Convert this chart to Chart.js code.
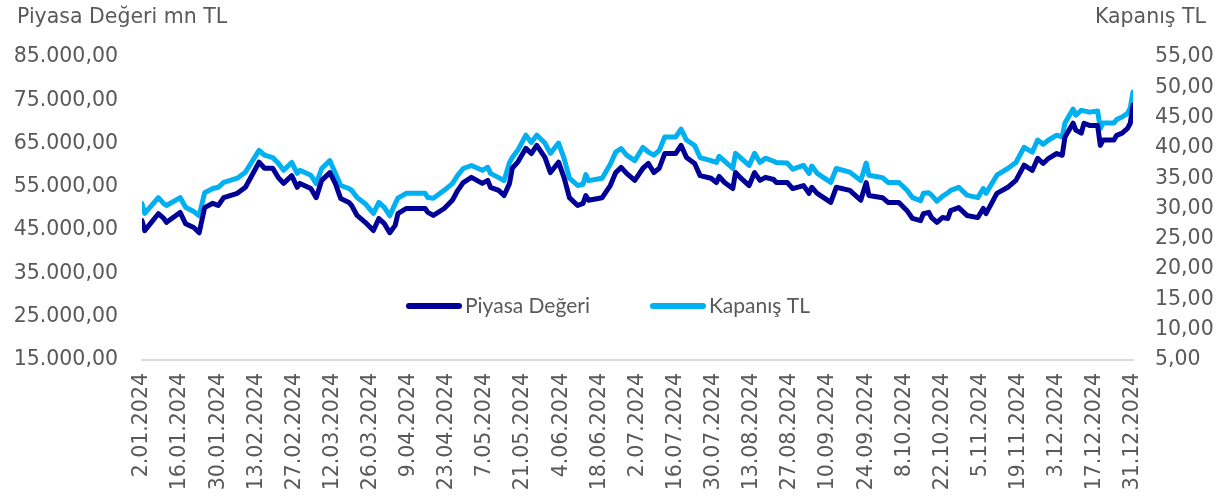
<!DOCTYPE html>
<html>
<head>
<meta charset="utf-8">
<script src="https://cdn.jsdelivr.net/npm/chart.js@4.4.1/dist/chart.umd.min.js"></script>
<style>
  html, body { margin: 0; padding: 0; background: #fff; }
  #wrap { width: 1219px; height: 503px; position: relative; }
</style>
</head>
<body>
<div id="wrap"><canvas id="chart"></canvas></div>
<script>
// days counted from 2.01.2024
const days = [0, 1, 6, 8, 9, 14, 16, 19, 21, 23, 26, 28, 30, 35, 38, 43, 45, 48, 50, 52,
  55, 57, 58, 62, 64, 66, 69, 71, 73, 76, 77, 79, 82, 85, 87, 89, 91, 93, 94, 97,
  104, 105, 107, 111, 114, 116, 118, 121, 125, 127, 128, 131, 133, 135, 136, 138, 141, 143, 145, 148,
  150, 153, 155, 157, 160, 162, 163, 164, 169, 172, 174, 176, 178, 181, 184, 186, 188, 190, 192, 196,
  198, 200, 203, 205, 209, 211, 212, 214, 217, 218, 220, 223, 225, 227, 229, 232, 233, 237, 239, 243,
  245, 246, 248, 253, 255, 260, 264, 266, 267, 272, 274, 278, 281, 283, 286, 287, 289, 290, 292, 294,
  296, 297, 300, 303, 307, 309, 310, 314, 318, 321, 324, 327, 329, 331, 333, 336, 338, 339, 342, 343,
  345, 346, 348, 351, 352, 353, 357, 358, 360, 362, 363, 364];

// Piyasa Değeri, mn TL
const piyasaDegeri = [47200, 44900, 48800, 47700, 46800, 49100, 46500, 45600, 44400, 50200,
  51200, 50700, 52500, 53500, 54900, 60700, 59300, 59300, 57200, 55800,
  57600, 54900, 55800, 54600, 52500, 56500, 58300, 55800, 52300, 51400,
  50700, 48400, 46800, 44900, 47700, 46500, 44400, 46100, 48800, 50000,
  50000, 49100, 48400, 50000, 51900, 54200, 56000, 57200, 55800, 56500,
  54900, 54200, 53000, 55800, 59300, 60700, 63900, 62700, 64600, 61800,
  58300, 60700, 57200, 52500, 50700, 51200, 53000, 51900, 52500, 55300,
  58300, 59500, 58100, 56500, 59300, 60400, 58300, 59300, 62700, 62700,
  64600, 61800, 60400, 57600, 57000, 56000, 57400, 56000, 54600, 58300,
  57000, 55300, 58300, 56500, 57200, 56700, 56000, 56000, 54600, 55300,
  53500, 54900, 53500, 51400, 54900, 54200, 51900, 56000, 53000, 52500,
  51400, 51400, 49500, 47700, 47200, 48800, 49100, 47900, 46800, 47900,
  47700, 49500, 50200, 48400, 47900, 50000, 48800, 53500, 54900, 56500,
  60000, 58800, 61600, 60400, 61600, 62700, 62300, 66500, 69700, 68100,
  67400, 69700, 69200, 69200, 64600, 65800, 65800, 66900, 67400, 68500,
  69700, 73900];

// Kapanış, TL
const kapanis = [30.8, 29.2, 31.8, 30.8, 30.5, 31.8, 30.2, 29.5, 28.8, 32.6,
  33.3, 33.5, 34.3, 35.0, 36.0, 39.6, 38.8, 38.4, 37.5, 36.3,
  37.6, 35.8, 36.3, 35.5, 34.1, 36.6, 37.9, 35.8, 33.8, 33.3,
  33.0, 31.8, 30.8, 29.2, 31.0, 30.2, 28.8, 30.8, 31.7, 32.5,
  32.5, 31.8, 31.7, 33.0, 34.1, 35.5, 36.6, 37.1, 36.3, 36.8,
  35.8, 35.1, 34.6, 37.6, 38.4, 39.6, 42.1, 40.9, 42.1, 40.8,
  39.1, 40.8, 38.3, 35.0, 33.8, 34.0, 35.6, 34.6, 35.0, 37.3,
  39.3, 39.9, 38.8, 37.9, 40.1, 39.3, 38.8, 39.6, 41.8, 41.8,
  43.1, 41.3, 40.4, 38.4, 37.9, 37.6, 38.6, 37.8, 36.6, 39.1,
  38.3, 37.1, 39.1, 37.6, 38.3, 37.8, 37.6, 37.5, 36.5, 37.1,
  35.8, 37.0, 35.8, 34.3, 36.6, 36.0, 34.6, 37.5, 35.5, 35.1,
  34.3, 34.3, 33.0, 31.8, 31.3, 32.5, 32.6, 32.2, 31.2, 32.0,
  32.6, 33.0, 33.5, 32.2, 31.8, 33.3, 32.5, 35.5, 36.6, 37.6,
  40.1, 39.3, 41.3, 40.6, 41.3, 42.1, 41.8, 44.1, 46.4, 45.4,
  46.2, 46.1, 45.9, 46.1, 43.2, 44.1, 44.1, 44.7, 45.1, 45.7,
  46.6, 49.2];

const tickLabels = ['2.01.2024', '16.01.2024', '30.01.2024', '13.02.2024', '27.02.2024', '12.03.2024',
  '26.03.2024', '9.04.2024', '23.04.2024', '7.05.2024', '21.05.2024', '4.06.2024', '18.06.2024',
  '2.07.2024', '16.07.2024', '30.07.2024', '13.08.2024', '27.08.2024', '10.09.2024', '24.09.2024',
  '8.10.2024', '22.10.2024', '5.11.2024', '19.11.2024', '3.12.2024', '17.12.2024', '31.12.2024'];

const seriesNames = ['Piyasa Değeri', 'Kapanış TL'];
const axisTitles = ['Piyasa Değeri mn TL', 'Kapanış TL'];

const DARK = '#000096';
const LIGHT = '#00b0f0';
const TEXT = '#595959';
const TICK_FONT = { family: 'DejaVu Sans', size: 20.5 };

function trNumber(v, thousands) {
  let s = v.toFixed(2).replace('.', ',');
  if (thousands) {
    const [i, d] = s.split(',');
    s = i.replace(/\B(?=(\d{3})+(?!\d))/g, '.') + ',' + d;
  }
  return s;
}

// titles above the axes and the legend inside the plot
const extrasPlugin = {
  id: 'extras',
  afterDraw(chart) {
    const ctx = chart.ctx;
    ctx.save();
    ctx.fillStyle = TEXT;
    ctx.font = '20.5px "DejaVu Sans"';
    ctx.textBaseline = 'middle';
    ctx.textAlign = 'left';
    ctx.fillText(axisTitles[0], 17, 18);
    ctx.textAlign = 'right';
    ctx.fillText(axisTitles[1], 1206, 18);

    const colors = [DARK, LIGHT];
    const starts = [406, 650];
    ctx.font = '21px Lato';
    ctx.textAlign = 'left';
    ctx.lineWidth = 6;
    ctx.lineCap = 'round';
    seriesNames.forEach((name, i) => {
      const x = starts[i];
      ctx.strokeStyle = colors[i];
      ctx.beginPath();
      ctx.moveTo(x + 3, 306);
      ctx.lineTo(x + 53, 306);
      ctx.stroke();
      ctx.fillStyle = TEXT;
      ctx.fillText(name, x + 59, 306);
    });
    ctx.restore();
  }
};

const ctx = document.getElementById('chart').getContext('2d');
new Chart(ctx, {
  type: 'line',
  data: {
    datasets: [
      {
        label: seriesNames[0],
        data: days.map((d, i) => ({ x: d, y: piyasaDegeri[i] })),
        yAxisID: 'y',
        borderColor: DARK,
        backgroundColor: DARK,
        borderWidth: 5,
        pointRadius: 0,
        tension: 0,
        borderJoinStyle: 'round',
        borderCapStyle: 'round',
      },
      {
        label: seriesNames[1],
        data: days.map((d, i) => ({ x: d, y: kapanis[i] })),
        yAxisID: 'y1',
        borderColor: LIGHT,
        backgroundColor: LIGHT,
        borderWidth: 5,
        pointRadius: 0,
        tension: 0,
        borderJoinStyle: 'round',
        borderCapStyle: 'round',
      },
    ],
  },
  options: {
    responsive: true,
    maintainAspectRatio: false,
    animation: false,
    layout: { padding: { top: 57, left: 0, right: 0, bottom: 0 } },
    plugins: {
      legend: { display: false },
      tooltip: { enabled: false },
    },
    scales: {
      x: {
        type: 'linear',
        min: 0,
        max: 364,
        grid: { display: false, drawTicks: false },
        border: { display: true, color: '#d9d9d9', width: 2 },
        ticks: {
          stepSize: 14,
          autoSkip: false,
          minRotation: 90,
          maxRotation: 90,
          padding: 13,
          color: TEXT,
          font: TICK_FONT,
          callback: (v) => tickLabels[Math.round(v / 14)],
        },
        afterFit: (s) => { s.height = 143; },
      },
      y: {
        position: 'left',
        min: 15000,
        max: 85000,
        grid: { display: false, drawTicks: false },
        border: { display: false },
        ticks: {
          stepSize: 10000,
          padding: 24,
          color: TEXT,
          font: TICK_FONT,
          callback: (v) => trNumber(v, true),
        },
        afterFit: (s) => { s.width = 142; },
      },
      y1: {
        position: 'right',
        min: 5,
        max: 55,
        grid: { display: false, drawTicks: false },
        border: { display: false },
        ticks: {
          stepSize: 5,
          padding: 22,
          color: TEXT,
          font: TICK_FONT,
          callback: (v) => trNumber(v, false),
        },
        afterFit: (s) => { s.width = 86; },
      },
    },
  },
  plugins: [extrasPlugin],
});
</script>
</body>
</html>
